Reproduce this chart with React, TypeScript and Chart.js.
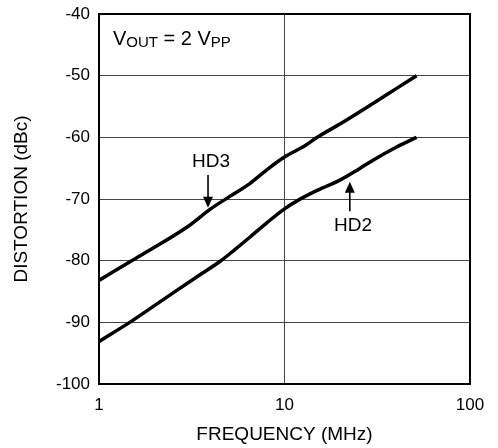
import React, { useEffect, useRef } from "react";
import { Chart, registerables } from "chart.js";
Chart.register(...registerables);

// Frequency (MHz) and distortion (dBc)
const hd3Freq = [1, 1.5, 2, 3, 4, 5, 6.5, 8, 10, 13, 15, 20, 30, 40, 51.5];
const hd3Dist = [-83.2, -80.0, -77.8, -74.5, -71.6, -69.7, -67.5, -65.3, -63.2, -61.3, -60.0, -57.8, -54.5, -52.1, -50.0];
const hd2Freq = [1, 1.5, 2.2, 3.3, 4.5, 5.4, 6.5, 8, 10, 12, 15, 20, 25, 30, 40, 51.5];
const hd2Dist = [-93.1, -89.8, -86.4, -82.8, -80.1, -78.2, -76.2, -73.9, -71.6, -70.1, -68.6, -66.9, -65.2, -63.7, -61.6, -60.0];

const xTicks = [1, 10, 100];
const yMin = -100;
const yMax = -40;
const yStep = 10;

const xTitle = "FREQUENCY (MHz)";
const yTitle = "DISTORTION (dBc)";

// annotations (data coordinates)
const labelTexts = ["HD3", "HD2"];
const labelX = [4.02, 23.4];
const labelY = [-64.0, -74.4];
const arrowX = [3.87, 22.5];
const arrowFrom = [-66.1, -72.0];
const arrowTo = [-71.4, -67.2];
const condX = 1.19;
const condY = -45.0;

const FONT = "'Liberation Sans', Arial, Helvetica, sans-serif";

const overlayPlugin = {
  id: "overlay",
  afterDatasetsDraw(chart: any) {
    const ctx = chart.ctx;
    const xs = chart.scales.x;
    const ys = chart.scales.y;
    const a = chart.chartArea;
    ctx.save();
    // frame
    ctx.strokeStyle = "#000";
    ctx.lineWidth = 2;
    ctx.strokeRect(a.left, a.top, a.right - a.left, a.bottom - a.top);

    ctx.fillStyle = "#000";
    ctx.textBaseline = "middle";
    ctx.textAlign = "center";
    ctx.font = `19px ${FONT}`;
    for (let i = 0; i < labelTexts.length; i++) {
      ctx.fillText(labelTexts[i], xs.getPixelForValue(labelX[i]), ys.getPixelForValue(labelY[i]));
    }
    // arrows
    for (let i = 0; i < arrowX.length; i++) {
      const px = xs.getPixelForValue(arrowX[i]);
      const y0 = ys.getPixelForValue(arrowFrom[i]);
      const y1 = ys.getPixelForValue(arrowTo[i]);
      const dir = y1 > y0 ? 1 : -1;
      ctx.lineWidth = 1.6;
      ctx.beginPath();
      ctx.moveTo(px, y0);
      ctx.lineTo(px, y1 - dir * 8);
      ctx.stroke();
      ctx.beginPath();
      ctx.moveTo(px, y1);
      ctx.lineTo(px - 5, y1 - dir * 11);
      ctx.lineTo(px + 5, y1 - dir * 11);
      ctx.closePath();
      ctx.fill();
    }
    // condition text V_OUT = 2 V_PP
    let cx = xs.getPixelForValue(condX);
    const cy = ys.getPixelForValue(condY);
    ctx.textAlign = "left";
    ctx.textBaseline = "alphabetic";
    const parts: [string, number, number][] = [
      ["V", 20, 0],
      ["OUT", 15, 2],
      [" = 2 V", 20, 0],
      ["PP", 15, 2],
    ];
    for (const [t, s, dy] of parts) {
      ctx.font = `${s}px ${FONT}`;
      ctx.fillText(t, cx, cy + dy);
      cx += ctx.measureText(t).width;
    }
    ctx.restore();
  },
};

export default function App() {
  const ref = useRef<HTMLCanvasElement | null>(null);
  useEffect(() => {
    document.body.style.margin = "0";
    const canvas = ref.current!;
    const chart = new Chart(canvas, {
      type: "line",
      data: {
        datasets: [
          {
            label: "HD3",
            data: hd3Freq.map((f, i) => ({ x: f, y: hd3Dist[i] })),
            borderColor: "#000",
            borderWidth: 3.5,
            pointRadius: 0,
            cubicInterpolationMode: "monotone",
            fill: false,
          },
          {
            label: "HD2",
            data: hd2Freq.map((f, i) => ({ x: f, y: hd2Dist[i] })),
            borderColor: "#000",
            borderWidth: 3.5,
            pointRadius: 0,
            cubicInterpolationMode: "monotone",
            fill: false,
          },
        ],
      },
      options: {
        animation: false,
        responsive: false,
        maintainAspectRatio: false,
        layout: { padding: { left: 0, top: 14, right: 28, bottom: 0 } },
        plugins: { legend: { display: false }, tooltip: { enabled: false } },
        scales: {
          x: {
            type: "logarithmic",
            min: 1,
            max: 100,
            afterBuildTicks: (s: any) => {
              s.ticks = xTicks.map((v) => ({ value: v }));
            },
            afterFit: (s: any) => {
              s.height = 64;
              s.paddingLeft = 0;
              s.paddingRight = 0;
            },
            ticks: {
              color: "#000",
              font: { family: FONT, size: 17 },
              padding: 11,
              maxRotation: 0,
              autoSkip: false,
              callback: (v: any) => String(v),
            },
            grid: { color: "#444", lineWidth: 1, drawTicks: false },
            border: { color: "#000", width: 2 },
            title: {
              display: true,
              text: xTitle,
              color: "#000",
              font: { family: FONT, size: 19 },
              padding: { top: 0, bottom: 2 },
            },
          },
          y: {
            min: yMin,
            max: yMax,
            afterFit: (s: any) => {
              s.width = 99;
              s.paddingTop = 0;
              s.paddingBottom = 0;
            },
            ticks: {
              stepSize: yStep,
              color: "#000",
              font: { family: FONT, size: 17 },
              padding: 9,
            },
            grid: { color: "#444", lineWidth: 1, drawTicks: false },
            border: { color: "#000", width: 2 },
            title: {
              display: true,
              text: yTitle,
              color: "#000",
              font: { family: FONT, size: 19 },
              padding: { top: 10, bottom: 0 },
            },
          },
        },
      },
      plugins: [overlayPlugin],
    } as any);
    return () => chart.destroy();
  }, []);
  return (
    <div style={{ width: 498, height: 448, background: "#fff" }}>
      <canvas ref={ref} width={498} height={448} style={{ display: "block" }} />
    </div>
  );
}
